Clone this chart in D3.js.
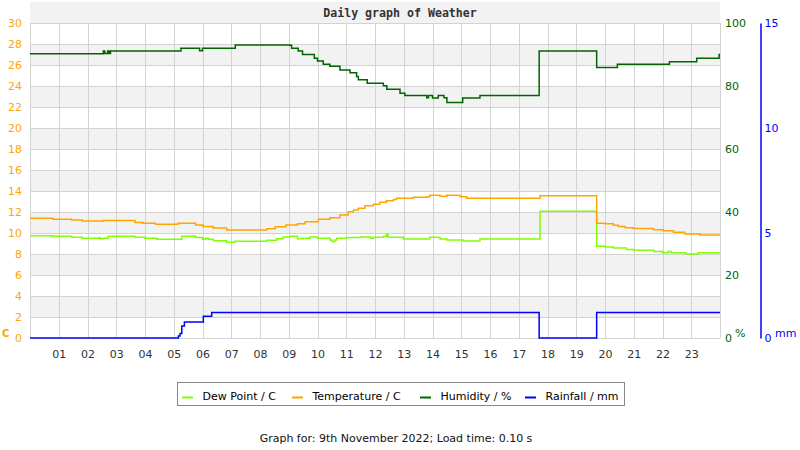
<!DOCTYPE html>
<html><head><meta charset="utf-8">
<script src="https://cdn.jsdelivr.net/npm/d3@7"></script>
<style>body{margin:0;background:#fff} svg{display:block} text{font-family:"DejaVu Sans",sans-serif}</style>
</head><body><svg id="c" width="800" height="450"></svg>
<script>
const hourLabels = ["01","02","03","04","05","06","07","08","09","10","11","12","13","14","15","16","17","18","19","20","21","22","23"];
const tempTicks = [0,2,4,6,8,10,12,14,16,18,20,22,24,26,28,30];
const humTicks = [0,20,40,60,80,100];
const rainTicks = [0,5,10,15];
const seriesNames = ["Dew Point / C","Temperature / C","Humidity / %","Rainfall / mm"];
const seriesColors = ["#7FFF00","#FFA500","#006400","#0000FF"];

const temperature = [[0,11.4],[0.8,11.3],[1.45,11.24],[1.82,11.14],[2.55,11.18],[3.65,11.0],[3.93,10.92],[4.37,10.83],[5.15,10.92],[5.76,10.76],[6.02,10.63],[6.37,10.48],[6.84,10.29],[8.23,10.41],[8.53,10.6],[8.9,10.76],[9.3,10.89],[9.57,11.08],[10.03,11.3],[10.43,11.46],[10.78,11.71],[11.07,12.03],[11.25,12.2],[11.42,12.35],[11.65,12.6],[11.94,12.73],[12.17,12.92],[12.4,13.08],[12.64,13.2],[12.75,13.3],[13.33,13.4],[13.8,13.46],[13.91,13.59],[14.26,13.49],[14.5,13.59],[14.96,13.46],[15.19,13.3],[17.74,13.55],[19.71,10.92],[20.0,10.89],[20.29,10.73],[20.46,10.63],[20.7,10.51],[20.98,10.44],[21.68,10.32],[22.03,10.22],[22.38,10.06],[22.78,9.9],[23.3,9.81],[24,9.81]];

const dewPoint = [[0,9.75],[0.8,9.68],[1.45,9.59],[1.82,9.49],[2.4,9.55],[2.45,9.45],[2.55,9.5],[2.72,9.68],[3.65,9.59],[4.0,9.49],[4.4,9.4],[5.28,9.68],[5.76,9.56],[6.0,9.4],[6.1,9.5],[6.2,9.4],[6.38,9.27],[6.84,9.11],[7.13,9.21],[8.23,9.3],[8.58,9.46],[8.8,9.62],[9.04,9.68],[9.3,9.45],[9.5,9.5],[9.74,9.62],[10.0,9.49],[10.43,9.34],[10.5,9.2],[10.6,9.34],[10.67,9.49],[11.01,9.56],[11.5,9.62],[11.85,9.49],[11.94,9.59],[12.3,9.7],[12.4,9.9],[12.45,9.6],[12.75,9.59],[12.99,9.43],[13.9,9.59],[14.26,9.43],[14.5,9.34],[15.07,9.24],[15.65,9.43],[17.71,9.43],[17.74,12.06],[19.71,8.73],[20.0,8.67],[20.29,8.57],[20.75,8.44],[21.0,8.35],[21.7,8.25],[22.0,8.13],[22.2,8.25],[22.3,8.13],[22.8,8.0],[23.25,8.13],[24,8.13]];

const humidity = [[0,90.2],[2.55,91.1],[2.6,90.3],[2.7,91.1],[2.75,90.3],[2.8,91.1],[5.25,92.0],[5.9,91.2],[6.0,92.0],[7.14,93.0],[9.04,92.9],[9.1,92.0],[9.33,91.1],[9.48,90.0],[9.89,88.8],[10.0,87.9],[10.2,86.9],[10.43,86.3],[10.78,85.1],[11.13,84.2],[11.36,83.0],[11.42,82.0],[11.73,80.9],[12.29,80.1],[12.41,79.0],[12.87,77.7],[13.04,77.0],[13.8,76.3],[13.86,77.0],[14.0,76.2],[14.2,77.0],[14.4,76.3],[14.5,74.8],[15.05,76.2],[15.65,77.0],[17.71,91.1],[19.71,85.9],[20.43,86.9],[22.24,87.7],[23.19,88.8],[23.97,90.0],[24,90.0]];

const rainfall = [[0,0],[5.16,0.1],[5.22,0.22],[5.28,0.57],[5.37,0.76],[6.03,1.03],[6.32,1.22],[17.71,0],[19.71,1.22],[24,1.22]];

const svg = d3.select("#c");
const L = 30, R = 720, T = 23, B = 338;
const x = d3.scaleLinear().domain([0,24]).range([L,R]);
const yT = d3.scaleLinear().domain([0,30]).range([B,T]);
const yH = d3.scaleLinear().domain([0,100]).range([B,T]);
const yR = d3.scaleLinear().domain([0,15]).range([B,T]);
const px = v => Math.round(v) + 0.5;

// bands
svg.append("g").selectAll("rect").data(tempTicks.filter(t => t % 4 === 2))
  .join("rect").attr("x", L).attr("width", R - L)
  .attr("y", d => yT(d + 2)).attr("height", d => yT(d) - yT(d + 2)).attr("fill", "#f2f2f2");

// grid
const grid = svg.append("g").attr("stroke", "#d3d3d3").attr("stroke-width", 1);
grid.selectAll("line.h").data(tempTicks).join("line").attr("class","h")
  .attr("x1", L).attr("x2", R).attr("y1", d => px(yT(d))).attr("y2", d => px(yT(d)));
grid.selectAll("line.v").data(d3.range(0,25)).join("line").attr("class","v")
  .attr("y1", T).attr("y2", B).attr("x1", d => px(x(d))).attr("x2", d => px(x(d)));

// axes
function styleAxis(g, color) {
  g.select(".domain").remove();
  g.selectAll("text").attr("fill", color).style("font-size", "11px").style("font-family", '"DejaVu Sans",sans-serif');
}
svg.append("g").attr("transform", `translate(${L},0)`)
  .call(d3.axisLeft(yT).tickValues(tempTicks).tickSize(0).tickPadding(8))
  .call(g => styleAxis(g, "#FFA500"));
svg.append("g").attr("transform", `translate(${R},0)`)
  .call(d3.axisRight(yH).tickValues(humTicks).tickSize(0).tickPadding(5))
  .call(g => styleAxis(g, "#006400"));
svg.append("g").attr("transform", `translate(0,${B})`)
  .call(d3.axisBottom(x).tickValues(d3.range(1,24)).tickFormat(d => hourLabels[d-1]).tickSize(0).tickPadding(12))
  .call(g => styleAxis(g, "#333"));
const ra = svg.append("g").attr("transform", `translate(760.5,0)`)
  .call(d3.axisRight(yR).tickValues(rainTicks).tickSize(0).tickPadding(4));
ra.selectAll("text").attr("fill", "#0000FF").style("font-size", "11px");
ra.select(".domain").attr("stroke", "#0000FF").attr("stroke-width", 1.5);

// unit labels
svg.append("text").attr("x", 2).attr("y", 337).attr("fill", "#FFA500").attr("font-weight", "bold").style("font-size", "10px").text("C");
svg.append("text").attr("x", 735).attr("y", 337).attr("fill", "#006400").style("font-size", "11px").text("%");
svg.append("text").attr("x", 775).attr("y", 337).attr("fill", "#0000FF").style("font-size", "11px").text("mm");

// lines
const mk = ys => d3.line().x(d => x(d[0])).y(d => ys(d[1])).curve(d3.curveStepAfter);
const series = [[dewPoint, yT], [temperature, yT], [humidity, yH], [rainfall, yR]];
svg.append("g").selectAll("path").data(series).join("path")
  .attr("d", d => mk(d[1])(d[0])).attr("fill", "none")
  .attr("stroke", (d, i) => seriesColors[i]).attr("stroke-width", 1.5);

// title
svg.append("text").attr("x", 400).attr("y", 17).attr("text-anchor", "middle")
  .attr("fill", "#333").attr("font-weight", "bold")
  .style("font-family", '"DejaVu Sans Mono",monospace').style("font-size", "11.6px")
  .text("Daily graph of Weather");

// legend
svg.append("rect").attr("x", 177.5).attr("y", 382.5).attr("width", 447).attr("height", 23)
  .attr("fill", "#fff").attr("stroke", "#888");
const legX = [182, 292, 420, 525];
const lg = svg.append("g").selectAll("g").data(seriesNames).join("g")
  .attr("transform", (d, i) => `translate(${legX[i]},0)`);
lg.append("line").attr("x1", 0).attr("x2", 11).attr("y1", 397.5).attr("y2", 397.5)
  .attr("stroke", (d, i) => seriesColors[i]).attr("stroke-width", 2);
lg.append("text").attr("x", 20.5).attr("y", 399.5).attr("fill", "#000").style("font-size", "11px").text(d => d);

// footer
svg.append("text").attr("x", 396).attr("y", 442).attr("text-anchor", "middle")
  .attr("fill", "#111").style("font-size", "11px")
  .text("Graph for: 9th November 2022; Load time: 0.10 s");
</script></body></html>
